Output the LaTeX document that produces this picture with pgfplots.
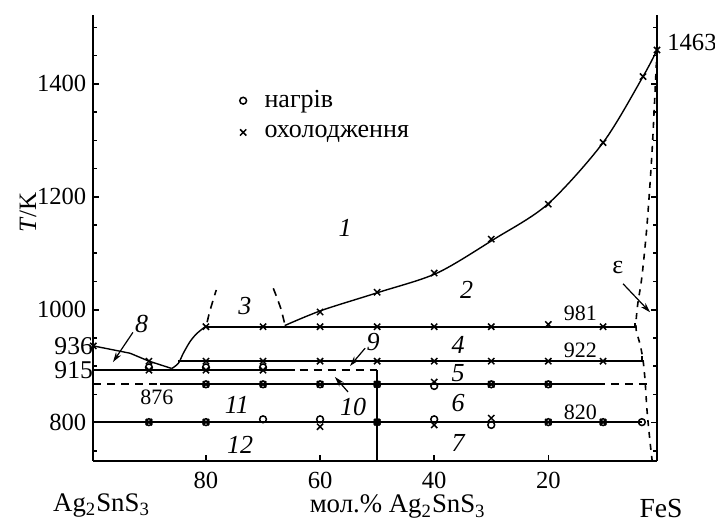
\documentclass[border=0pt]{standalone}
\usepackage{fontspec}
\setmainfont{Liberation Serif}
\usepackage{pgfplots}
\pgfplotsset{compat=1.18}
\usetikzlibrary{arrows.meta}
\begin{document}
\begin{tikzpicture}
\begin{axis}[
  scale only axis, width=281.85pt, height=222.85pt,
  x dir=reverse, xmin=0.95, xmax=99.75, ymin=732.7, ymax=1522,
  axis x line=bottom, axis y line=box,
  x axis line style={-}, y axis line style={-},
  axis line style={line width=1pt, black},
  tick align=inside,
  xtick={20,40,60,80}, ytick={800,1000,1200,1400},
  minor ytick={750,850,900,950,1050,1100,1150,1250,1300,1350,1450,1500},
  major tick length=3pt, minor tick length=1.8pt,
  tick style={line width=0.8pt, black},
  ticklabel style={font=\rmfamily\fontsize{12.3}{14}\selectfont},
  xticklabel style={yshift=-2pt},
  /pgf/number format/assume math mode=true, /pgf/number format/1000 sep={},
  scaled y ticks=false,
  clip=false,
  legend style={draw=none, fill=none, font=\fontsize{13}{15}\selectfont, at={(axis cs:75.2,1403)}, anchor=north west, row sep=3pt},
  legend cell align=left,
]
% liquidus (right branch)
\addplot[smooth, line width=0.7pt, forget plot] coordinates {(66.2,972) (59.7,999) (49.7,1031) (39.5,1065) (29.5,1125) (20.1,1187) (10.4,1296) (3.4,1413) (0.95,1460)};
% liquidus (left branch)
\addplot[line width=0.7pt, forget plot] coordinates {(99.75,936) (93.3,923) (90,909) (86,896)};
\addplot[smooth, line width=0.7pt, forget plot] coordinates {(86,896) (84.85,905) (83.97,923) (82.8,943.5) (81.6,958) (80,971)};
% horizontals
\addplot[line width=1pt, forget plot] coordinates {(80,970) (4.8,970) (4.8,976)};
\addplot[line width=1pt, forget plot] coordinates {(84.85,909) (3.6,909) (3.6,918)};
\addplot[line width=1pt, forget plot] coordinates {(99.75,893) (64.4,893)};
\addplot[line width=0.9pt, dash pattern=on 4pt off 3pt, forget plot] coordinates {(63.6,893) (50,893)};
\addplot[line width=0.9pt, dash pattern=on 4pt off 3pt, forget plot] coordinates {(99.75,868) (88,868)};
\addplot[line width=0.8pt, forget plot] coordinates {(88,868) (11.5,868)};
\addplot[line width=0.9pt, dash pattern=on 4pt off 3pt, forget plot] coordinates {(11.5,868) (2.9,868) (2.9,862)};
\addplot[line width=1pt, forget plot] coordinates {(99.75,801) (3.6,801)};
\addplot[line width=1pt, forget plot] coordinates {(50,893) (50,732.7)};
% dashed boundaries
\addplot[line width=0.8pt, dash pattern=on 4pt off 3pt, forget plot] coordinates {(79.8,978) (79.4,995) (78.9,1012) (78.2,1035)};
\addplot[line width=0.8pt, dash pattern=on 4pt off 3pt, forget plot] coordinates {(68.2,1038) (67.5,1020) (66.8,1000) (66.2,975)};
\addplot[smooth, line width=0.8pt, dash pattern=on 3pt off 3pt, forget plot] coordinates {(0.95,1460) (1.8,1283) (2.7,1150) (3.6,1058) (4.3,1012) (4.6,982) (4.6,964) (3.9,938) (3.4,911) (3.05,876) (2.7,822) (2.2,769) (1.8,733)};
% arrows
\addplot[line width=0.6pt, -{Stealth[length=5pt,width=3pt]}, forget plot] coordinates {(92.8,960) (96.3,907.4)};
\addplot[line width=0.6pt, -{Stealth[length=5pt,width=3pt]}, forget plot] coordinates {(52.1,932) (54.75,900.4)};
\addplot[line width=0.6pt, -{Stealth[length=5pt,width=3pt]}, forget plot] coordinates {(55.1,854.4) (57.4,881)};
\addplot[line width=0.6pt, -{Stealth[length=5pt,width=3pt]}, forget plot] coordinates {(6.9,1046) (2.17,995.6)};
% heating
\addplot[only marks, mark=o, mark size=1.7pt, mark options={line width=0.75pt}] coordinates {
(90,898) (90,801)
(80,898) (80,868) (80,801)
(70,898) (70,868) (70,806)
(60,868) (60,806)
(50,868) (50,801)
(40,865) (40,806)
(30,868) (30,796)
(20,868) (20,801)
(10.4,801)
(3.6,801)};
\addlegendentry{\hspace{7pt}нагрів}
% cooling
\addplot[only marks, mark=x, mark size=2.2pt, mark options={line width=0.75pt}] coordinates {
(99.75,936)
(90,909) (90,893) (90,801)
(80,970) (80,909) (80,893) (80,868) (80,801)
(70,970) (70,909) (70,893) (70,868)
(60,996) (60,970) (60,909) (60,868) (60,793)
(50,1031) (50,970) (50,909) (50,868) (50,801)
(40,1065) (40,970) (40,909) (40,872) (40,796)
(30,1125) (30,970) (30,909) (30,868) (30,808)
(20,1187) (20,974) (20,909) (20,868) (20,801)
(10.4,1296) (10.4,970) (10.4,909) (10.4,801)
(3.4,1413)
(0.95,1460)};
\addlegendentry{\hspace{7pt}охолодження}
% region labels
\begin{scope}[every node/.style={font=\itshape\fontsize{13}{15}\selectfont, inner sep=0pt}]
\node at (axis cs:55.6,1145) {1};
\node at (axis cs:34.3,1035) {2};
\node at (axis cs:73.2,1007) {3};
\node at (axis cs:35.8,938) {4};
\node at (axis cs:35.8,888) {5};
\node at (axis cs:35.8,835) {6};
\node at (axis cs:35.8,764) {7};
\node at (axis cs:91.3,975) {8};
\node at (axis cs:50.7,943) {9};
\node at (axis cs:54.2,828) {10};
\node at (axis cs:74.6,831) {11};
\node at (axis cs:74,760.5) {12};
\end{scope}
\begin{scope}[every node/.style={font=\fontsize{11}{13}\selectfont, inner sep=0pt}]
\node at (axis cs:14.4,994) {981};
\node at (axis cs:14.4,929) {922};
\node at (axis cs:14.4,819) {820};
\node at (axis cs:88.6,845.6) {876};
\end{scope}
\node[font=\fontsize{13}{15}\selectfont, inner sep=0pt] at (axis cs:7.8,1074) {ε};
\node[font=\fontsize{12.3}{14}\selectfont, inner sep=0pt, anchor=west] at (axis cs:0.95,1474) {\hspace{5pt}1463};
\node[font=\fontsize{12.8}{14}\selectfont, inner sep=0pt, anchor=east] at (axis cs:99.75,936) {936\hspace{2pt}};
\node[font=\fontsize{12.8}{14}\selectfont, inner sep=0pt, anchor=east] at (axis cs:99.75,893) {915\hspace{2pt}};
\node[font=\fontsize{12.5}{14}\selectfont, inner sep=0pt, rotate=90] at (axis cs:111.2,1172) {\textit{T}/K};
\node[font=\fontsize{13.4}{15}\selectfont, inner sep=0pt] at (axis cs:98.3,654) {Ag\textsubscript{2}SnS\textsubscript{3}};
\node[font=\fontsize{13.4}{15}\selectfont, inner sep=0pt] at (axis cs:46.4,651) {мол.\% Ag\textsubscript{2}SnS\textsubscript{3}};
\node[font=\fontsize{13.8}{15}\selectfont, inner sep=0pt] at (axis cs:0.25,648) {FeS};
\end{axis}
\pgfresetboundingbox
\path[use as bounding box] ([xshift=-46.65pt,yshift=-32.15pt]current axis.south west) rectangle ([xshift=29pt,yshift=7.5pt]current axis.north east);
\end{tikzpicture}
\end{document}
